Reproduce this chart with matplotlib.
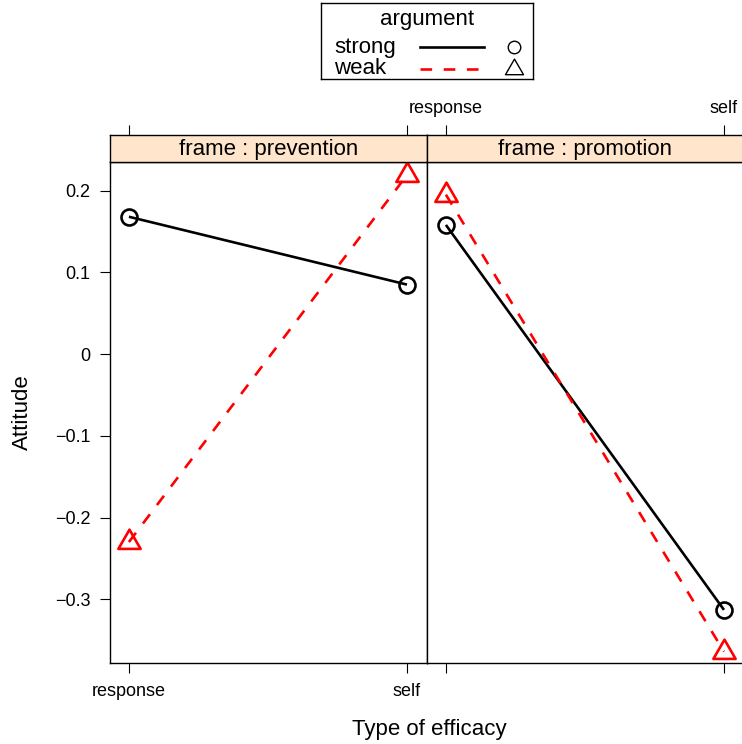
import matplotlib
matplotlib.use("Agg")
import matplotlib.pyplot as plt
from matplotlib.path import Path

plt.rcParams['font.family'] = ['Liberation Sans', 'DejaVu Sans']

# ---- data ----
efficacy = ["response", "self"]
frames = ["prevention", "promotion"]
strong_vals = {"prevention": [0.168, 0.085], "promotion": [0.158, -0.313]}
weak_vals = {"prevention": [-0.230, 0.219], "promotion": [0.195, -0.364]}
yticks = [-0.3, -0.2, -0.1, 0.0, 0.1, 0.2]
ytick_labels = ["\u22120.3", "\u22120.2", "\u22120.1", "0", "0.1", "0.2"]

RED = "#FF0000"
STRIP = "#FFE5CC"
W, H = 742, 744
fig = plt.figure(figsize=(W / 100, H / 100), dpi=100)

TRI = Path([(-1, -0.577), (1, -0.577), (0, 1.155), (-1, -0.577)],
           [Path.MOVETO, Path.LINETO, Path.LINETO, Path.CLOSEPOLY])

def fx(px):
    return px / W

def fy(py):
    return 1 - py / H

panel_top, panel_bot = 162, 663
strip_top = 135
lefts = [110, 427]
pw = 317
xpos = [1, 2]
tick_font = 13
big_font = 16
tl = 7.2
lw_box = 1.0
LW = 1.9

for i, fr in enumerate(frames):
    ax = fig.add_axes([fx(lefts[i]), fy(panel_bot), pw / W, (panel_bot - panel_top) / H])
    ax.set_xlim(0.932, 2.072)
    ax.set_ylim(-0.378, 0.235)
    ax.plot(xpos, strong_vals[fr], color="black", lw=LW, marker="o", ms=11.5,
            mfc="none", mew=1.9, mec="black", solid_capstyle="butt", zorder=3)
    ax.plot(xpos, weak_vals[fr], color=RED, lw=LW, dashes=(4.4, 4.4), marker=TRI,
            ms=18.5, mfc="none", mew=1.9, mec=RED, zorder=3)
    for s in ax.spines.values():
        s.set_linewidth(lw_box)
    ax.set_xticks(xpos)
    ax.tick_params(axis="x", direction="out", length=tl, width=0.8, pad=7,
                   labelsize=tick_font, top=False, bottom=True)
    if i == 0:
        ax.set_xticklabels(efficacy)
        ax.set_yticks(yticks)
        ax.set_yticklabels(ytick_labels)
        ax.tick_params(axis="y", direction="out", length=tl, width=0.8, pad=7,
                       labelsize=tick_font, left=True, right=False)
    else:
        ax.set_xticklabels(["", ""])
        ax.set_yticks([])

    sax = fig.add_axes([fx(lefts[i]), fy(panel_top), pw / W, (panel_top - strip_top) / H])
    sax.set_xlim(ax.get_xlim())
    sax.set_ylim(0, 1)
    sax.set_facecolor(STRIP)
    for s in sax.spines.values():
        s.set_linewidth(lw_box)
    sax.set_yticks([])
    sax.set_xticks(xpos)
    sax.tick_params(axis="x", direction="out", length=tl, width=0.8, pad=6,
                    labelsize=tick_font, top=True, bottom=False,
                    labeltop=(i == 1), labelbottom=False)
    if i == 1:
        sax.set_xticklabels(efficacy)
    sax.text(0.5, 0.45, f"frame : {fr}", transform=sax.transAxes, ha="center",
             va="center", fontsize=big_font)

fig.text(fx(429), fy(729), "Type of efficacy", ha="center", va="center", fontsize=big_font)
fig.text(fx(22), fy(412), "Attitude", ha="center", va="center", rotation=90, fontsize=big_font)

# legend
lx0, ly0, lw_, lh_ = 321, 3, 212, 76
lax = fig.add_axes([fx(lx0), fy(ly0 + lh_), lw_ / W, lh_ / H])
lax.set_xlim(0, lw_)
lax.set_ylim(lh_, 0)
lax.set_xticks([])
lax.set_yticks([])
for s in lax.spines.values():
    s.set_linewidth(lw_box)
lax.text(106, 17, "argument", ha="center", va="center", fontsize=big_font)
labels = ["strong", "weak"]
ys = [44, 66]
for lab, yv, col, mk, ms in zip(labels, ys, ["black", RED], ["o", TRI], [9, 15]):
    lax.text(13, yv, lab, ha="left", va="center", fontsize=big_font)
    if col == "black":
        lax.plot([99, 163], [yv, yv], color=col, lw=LW)
    else:
        lax.plot([99, 163], [yv, yv], color=col, lw=LW, dashes=(4.4, 4.4))
    lax.plot([193], [yv], marker=mk, ms=ms, mfc="none", mec="black", mew=1.0, color="black")

fig.savefig("out.png", dpi=100)
